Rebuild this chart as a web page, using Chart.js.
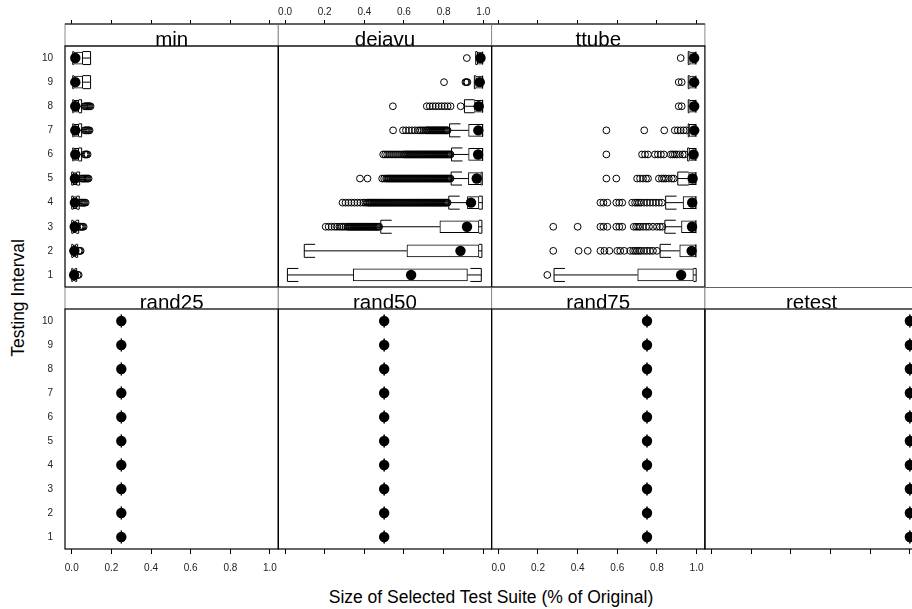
<!DOCTYPE html>
<html>
<head>
<meta charset="utf-8">
<title>Test suite size by testing interval</title>
<script src="https://cdn.jsdelivr.net/npm/chart.js@4.4.1/dist/chart.umd.min.js"></script>
<style>
  html, body { margin: 0; padding: 0; background: #fff; overflow: hidden; width: 912px; height: 609px; }
  body { position: relative; font-family: "Liberation Sans", Arial, Helvetica, sans-serif; }
  canvas { position: absolute; }
  .ttl { position: absolute; font-size: 17.5px; line-height: 1; color: #000; white-space: nowrap; }
  #ytitle { left: 18.5px; top: 298px; transform: translate(-50%, -50%) rotate(-90deg); }
  #xtitle { left: 491px; top: 598px; transform: translate(-50%, -50%); }
</style>
</head>
<body>
<div id="ytitle" class="ttl">Testing Interval</div>
<div id="xtitle" class="ttl">Size of Selected Test Suite (% of Original)</div>
<script>
// testing intervals (y) and x tick marks
var levels = [1, 2, 3, 4, 5, 6, 7, 8, 9, 10];
var xTicks = [0.0, 0.2, 0.4, 0.6, 0.8, 1.0];

// min
var minLo  = [0.0, 0.0, 0.0, 0.0, 0.0, 0.005, 0.005, 0.005, 0.005, 0.005];
var minQ1  = [0.005, 0.007, 0.008, 0.008, 0.008, 0.01, 0.01, 0.01, 0.01, 0.01];
var minMed = [0.012, 0.013, 0.015, 0.016, 0.016, 0.018, 0.018, 0.018, 0.018, 0.018];
var minQ3  = [0.018, 0.02, 0.022, 0.025, 0.025, 0.035, 0.035, 0.035, 0.055, 0.055];
var minHi  = [0.025, 0.03, 0.035, 0.038, 0.04, 0.05, 0.05, 0.05, 0.095, 0.095];
var minOut = [
  [0.03, 0.035],
  [0.035, 0.04, 0.045],
  [0.04, 0.045, 0.05, 0.055, 0.06],
  [0.045, 0.05, 0.055, 0.06, 0.065, 0.07],
  [0.05, 0.055, 0.06, 0.065, 0.07, 0.075, 0.08, 0.085],
  [0.065, 0.07, 0.075, 0.08],
  [0.065, 0.07, 0.075, 0.08, 0.085, 0.09],
  [0.065, 0.07, 0.075, 0.08, 0.085, 0.09, 0.095],
  [],
  []
];

// dejavu
var djLo  = [0.012, 0.097, 0.483, 0.826, 0.838, 0.84, 0.83, 0.905, 0.955, 0.962];
var djQ1  = [0.344, 0.615, 0.781, 0.92, 0.925, 0.926, 0.926, 0.956, 0.962, 0.97];
var djMed = [0.636, 0.885, 0.918, 0.938, 0.967, 0.974, 0.975, 0.977, 0.982, 0.986];
var djQ3  = [0.92, 0.978, 0.978, 0.978, 0.99, 0.997, 0.997, 0.997, 0.997, 0.997];
var djHi  = [0.99, 0.993, 0.993, 0.995, 0.995, 0.997, 0.997, 0.997, 0.997, 0.997];
var djOut = [
  [],
  [],
  [0.205, 0.22, 0.235, 0.25, 0.262, 0.275, 0.285, 0.295, 0.305, 0.315, 0.32, 0.325, 0.33, 0.335, 0.34,
   0.345, 0.35, 0.355, 0.36, 0.365, 0.37, 0.375, 0.38, 0.385, 0.39, 0.395, 0.40, 0.405, 0.41, 0.415,
   0.42, 0.425, 0.43, 0.435, 0.44, 0.445, 0.45, 0.455, 0.46, 0.465, 0.47, 0.475],
  [0.29, 0.305, 0.32, 0.335, 0.35, 0.365, 0.38, 0.395, 0.405, 0.415,
   0.42, 0.425, 0.43, 0.435, 0.44, 0.445, 0.45, 0.455, 0.46, 0.465, 0.47, 0.475, 0.48, 0.485, 0.49, 0.495,
   0.50, 0.505, 0.51, 0.515, 0.52, 0.525, 0.53, 0.535, 0.54, 0.545, 0.55, 0.555, 0.56, 0.565, 0.57, 0.575,
   0.58, 0.585, 0.59, 0.595, 0.60, 0.605, 0.61, 0.615, 0.62, 0.625, 0.63, 0.635, 0.64, 0.645, 0.65, 0.655,
   0.66, 0.665, 0.67, 0.675, 0.68, 0.685, 0.69, 0.695, 0.70, 0.705, 0.71, 0.715, 0.72, 0.725, 0.73, 0.735,
   0.74, 0.745, 0.75, 0.755, 0.76, 0.765, 0.77, 0.775, 0.78, 0.785, 0.79, 0.795, 0.80, 0.805, 0.81, 0.815, 0.82],
  [0.378, 0.416, 0.49, 0.50, 0.51, 0.515,
   0.52, 0.525, 0.53, 0.535, 0.54, 0.545, 0.55, 0.555, 0.56, 0.565, 0.57, 0.575, 0.58, 0.585, 0.59, 0.595,
   0.60, 0.605, 0.61, 0.615, 0.62, 0.625, 0.63, 0.635, 0.64, 0.645, 0.65, 0.655, 0.66, 0.665, 0.67, 0.675,
   0.68, 0.685, 0.69, 0.695, 0.70, 0.705, 0.71, 0.715, 0.72, 0.725, 0.73, 0.735, 0.74, 0.745, 0.75, 0.755,
   0.76, 0.765, 0.77, 0.775, 0.78, 0.785, 0.79, 0.795, 0.80, 0.805, 0.81, 0.815, 0.82, 0.825, 0.83, 0.835],
  [0.495, 0.505, 0.515, 0.525, 0.535, 0.545, 0.555, 0.565, 0.575, 0.585, 0.595,
   0.60, 0.605, 0.61, 0.615, 0.62, 0.625, 0.63, 0.635, 0.64, 0.645, 0.65, 0.655, 0.66, 0.665, 0.67, 0.675,
   0.68, 0.685, 0.69, 0.695, 0.70, 0.705, 0.71, 0.715, 0.72, 0.725, 0.73, 0.735, 0.74, 0.745, 0.75, 0.755,
   0.76, 0.765, 0.77, 0.775, 0.78, 0.785, 0.79, 0.795, 0.80, 0.805, 0.81, 0.815, 0.82, 0.825, 0.83, 0.835],
  [0.545, 0.595, 0.61, 0.625, 0.64, 0.655, 0.67, 0.68, 0.69, 0.70, 0.71,
   0.715, 0.72, 0.725, 0.73, 0.735, 0.74, 0.745, 0.75, 0.755, 0.76, 0.765, 0.77, 0.775, 0.78, 0.785,
   0.79, 0.795, 0.80, 0.805, 0.81, 0.815, 0.82],
  [0.544, 0.715, 0.73, 0.745, 0.76, 0.775, 0.79, 0.805, 0.82, 0.835, 0.886],
  [0.802, 0.91, 0.915, 0.92],
  [0.917]
];

// ttube
var ttLo  = [0.281, 0.816, 0.84, 0.844, 0.905, 0.955, 0.958, 0.958, 0.958, 0.958];
var ttQ1  = [0.703, 0.915, 0.924, 0.932, 0.96, 0.962, 0.962, 0.965, 0.965, 0.965];
var ttMed = [0.922, 0.975, 0.977, 0.978, 0.98, 0.985, 0.988, 0.988, 0.988, 0.988];
var ttQ3  = [0.984, 0.997, 0.997, 0.997, 0.997, 0.997, 0.997, 0.997, 0.997, 0.997];
var ttHi  = [0.998, 0.997, 0.997, 0.997, 0.997, 0.997, 0.997, 0.997, 0.997, 0.997];
var ttOut = [
  [0.247],
  [0.277, 0.405, 0.451, 0.515, 0.535, 0.56, 0.60, 0.615, 0.635, 0.665, 0.68, 0.69, 0.70, 0.71, 0.72,
   0.735, 0.75, 0.765, 0.78, 0.80],
  [0.277, 0.40, 0.515, 0.53, 0.55, 0.595, 0.61, 0.625, 0.683, 0.695, 0.705, 0.715, 0.73, 0.745, 0.76,
   0.78, 0.80, 0.815, 0.828],
  [0.515, 0.53, 0.55, 0.595, 0.61, 0.625, 0.675, 0.69, 0.70, 0.71, 0.72, 0.735, 0.75, 0.765, 0.78,
   0.795, 0.81, 0.825],
  [0.545, 0.595, 0.70, 0.715, 0.73, 0.745, 0.755, 0.81, 0.825, 0.835, 0.845, 0.86, 0.875, 0.885],
  [0.545, 0.725, 0.74, 0.755, 0.79, 0.805, 0.82, 0.835, 0.87, 0.88, 0.89, 0.90, 0.915, 0.93, 0.94],
  [0.545, 0.736, 0.837, 0.89, 0.905, 0.92, 0.935, 0.948],
  [0.91, 0.925],
  [0.91, 0.925],
  [0.92]
];

// random selections and retest-all: every run gives the same size
var rand25Size = [0.25, 0.25, 0.25, 0.25, 0.25, 0.25, 0.25, 0.25, 0.25, 0.25];
var rand50Size = [0.5, 0.5, 0.5, 0.5, 0.5, 0.5, 0.5, 0.5, 0.5, 0.5];
var rand75Size = [0.75, 0.75, 0.75, 0.75, 0.75, 0.75, 0.75, 0.75, 0.75, 0.75];
var retestSize = [1.0, 1.0, 1.0, 1.0, 1.0, 1.0, 1.0, 1.0, 1.0, 1.0];
var noOut = [[], [], [], [], [], [], [], [], [], []];

var panels = [
  { name: "min",    lo: minLo, q1: minQ1, med: minMed, q3: minQ3, hi: minHi, out: minOut, col: 0, row: 0 },
  { name: "dejavu", lo: djLo,  q1: djQ1,  med: djMed,  q3: djQ3,  hi: djHi,  out: djOut,  col: 1, row: 0 },
  { name: "ttube",  lo: ttLo,  q1: ttQ1,  med: ttMed,  q3: ttQ3,  hi: ttHi,  out: ttOut,  col: 2, row: 0 },
  { name: "rand25", lo: rand25Size, q1: rand25Size, med: rand25Size, q3: rand25Size, hi: rand25Size, out: noOut, col: 0, row: 1 },
  { name: "rand50", lo: rand50Size, q1: rand50Size, med: rand50Size, q3: rand50Size, hi: rand50Size, out: noOut, col: 1, row: 1 },
  { name: "rand75", lo: rand75Size, q1: rand75Size, med: rand75Size, q3: rand75Size, hi: rand75Size, out: noOut, col: 2, row: 1 },
  { name: "retest", lo: retestSize, q1: retestSize, med: retestSize, q3: retestSize, hi: retestSize, out: noOut, col: 3, row: 1 }
];

var FONT = '"Liberation Sans", Arial, Helvetica, sans-serif';
Chart.defaults.font.family = FONT;

var COL_LEFT = [65, 278.3, 491.6, 704.9];
var PANEL_W = 213.3;
var X_MIN = -0.034, X_MAX = 1.042;
var BOX_HALF = 0.27;  // half height of the umbrellas, in interval units
var CAP = 0.055;      // length of the umbrella serifs

// whiskers plus "[" "]" umbrellas, one broken polyline
function whiskerPoints(p) {
  var pts = [];
  levels.forEach(function(l, i) {
    var lo = p.lo[i], q1 = p.q1[i], q3 = p.q3[i], hi = p.hi[i];
    var cl = Math.min(CAP, q1 - lo), cr = Math.min(CAP, hi - q3);
    pts.push({x: lo + cl, y: l - BOX_HALF}, {x: lo, y: l - BOX_HALF}, {x: lo, y: l + BOX_HALF}, {x: lo + cl, y: l + BOX_HALF}, {x: null, y: null});
    pts.push({x: lo, y: l}, {x: q1, y: l}, {x: null, y: null});
    pts.push({x: q3, y: l}, {x: hi, y: l}, {x: null, y: null});
    pts.push({x: hi - cr, y: l - BOX_HALF}, {x: hi, y: l - BOX_HALF}, {x: hi, y: l + BOX_HALF}, {x: hi - cr, y: l + BOX_HALF}, {x: null, y: null});
  });
  return pts;
}

// strip above each panel + the panel frame
var panelDeco = {
  id: "panelDeco",
  afterDraw: function(chart, args, opts) {
    var ctx = chart.ctx, a = chart.chartArea;
    var w = a.right - a.left, top = a.top - 22;
    ctx.save();
    ctx.fillStyle = "#fff";
    ctx.fillRect(a.left, top, w, 22);
    ctx.lineWidth = 1;
    ctx.strokeStyle = "#8a8a8a";
    ctx.strokeRect(a.left, top, w, 22);
    ctx.save();
    ctx.beginPath();
    ctx.rect(a.left, top, w, 22);
    ctx.clip();
    ctx.fillStyle = "#000";
    ctx.font = "20.5px " + FONT;
    ctx.textAlign = "center";
    ctx.textBaseline = "alphabetic";
    ctx.fillText(opts.label, (a.left + a.right) / 2, a.top - 0.5);
    ctx.restore();
    ctx.strokeStyle = "#000";
    ctx.lineWidth = 1.2;
    ctx.beginPath();
    ctx.moveTo(a.left, top);
    ctx.lineTo(a.right, top);
    ctx.stroke();
    ctx.strokeRect(a.left, a.top, w, a.bottom - a.top);
    if (opts.row === 1) {
      ctx.strokeStyle = "#777";
      ctx.beginPath();
      ctx.moveTo(a.left + 0.6, a.top);
      ctx.lineTo(a.right - 0.6, a.top);
      ctx.stroke();
    }
    ctx.restore();
  }
};

function makePanel(p) {
  var cv = document.createElement("canvas");
  var left = Math.round(COL_LEFT[p.col]) - 45;
  var top = p.row === 0 ? 0 : 287;
  var cw = 270, ch = p.row === 0 ? 309 : 300;
  cv.width = cw;
  cv.height = ch;
  cv.style.left = left + "px";
  cv.style.top = top + "px";
  document.body.appendChild(cv);

  var off = COL_LEFT[p.col] - left;
  var showX = p.row === 0 ? p.col === 1 : (p.col === 0 || p.col === 2);
  var showY = p.col === 0;

  var medPts = levels.map(function(l, i) { return {x: p.med[i], y: l}; });
  var boxPts = levels.map(function(l, i) { return {y: l, x: [p.q1[i], p.q3[i]]}; });
  var outPts = [];
  p.out.forEach(function(arr, i) {
    arr.forEach(function(v) { outPts.push({x: v, y: levels[i]}); });
  });

  new Chart(cv, {
    type: "scatter",
    data: {
      datasets: [
        { type: "scatter", data: medPts, pointStyle: "circle", pointRadius: 5.2, pointHoverRadius: 5.2,
          pointBackgroundColor: "#000", pointBorderWidth: 0, order: 0 },
        { type: "line", data: whiskerPoints(p), borderColor: "#000", borderWidth: 1, pointRadius: 0,
          spanGaps: false, tension: 0, fill: false, borderCapStyle: "butt", borderJoinStyle: "miter", order: 1 },
        { type: "bar", indexAxis: "y", data: boxPts, backgroundColor: "#fff", borderColor: "#000",
          borderWidth: 1, borderSkipped: false, barThickness: 12, order: 2 },
        { type: "scatter", data: outPts, pointStyle: "circle", pointRadius: 3.4, pointHoverRadius: 3.4,
          pointBorderWidth: 1, pointBorderColor: "#000", pointBackgroundColor: "rgba(0,0,0,0)", order: 3 }
      ]
    },
    options: {
      responsive: false,
      animation: false,
      devicePixelRatio: 1,
      events: [],
      layout: {
        autoPadding: false,
        padding: {
          left: off - 30,
          right: cw - off - PANEL_W,
          top: p.row === 0 ? 0 : 22,
          bottom: p.row === 0 ? 22 : 8
        }
      },
      plugins: {
        legend: { display: false },
        tooltip: { enabled: false },
        panelDeco: { label: p.name, row: p.row }
      },
      scales: {
        x: {
          type: "linear",
          position: p.row === 0 ? "top" : "bottom",
          min: X_MIN,
          max: X_MAX,
          offset: false,
          afterBuildTicks: function(s) { s.ticks = xTicks.map(function(v) { return {value: v}; }); },
          afterFit: function(s) { s.height = p.row === 0 ? 46 : 30; },
          grid: { display: true, offset: false, drawOnChartArea: false, drawTicks: true,
                  tickLength: p.row === 0 ? 26 : 5, tickColor: "#000", tickWidth: 1 },
          border: { display: false },
          ticks: {
            autoSkip: false, maxRotation: 0, minRotation: 0,
            padding: p.row === 0 ? 2 : 8,
            color: "#222",
            font: { size: 10 },
            callback: function(v) { return showX ? Number(v).toFixed(1) : ""; }
          }
        },
        y: {
          type: "linear",
          position: "left",
          min: 0.5,
          max: 10.5,
          offset: false,
          afterBuildTicks: function(s) { s.ticks = levels.map(function(v) { return {value: v}; }); },
          afterFit: function(s) { s.width = 30; },
          grid: { display: false, offset: false, drawTicks: false },
          border: { display: false },
          ticks: {
            autoSkip: false,
            padding: 12,
            color: "#222",
            font: { size: 10 },
            callback: function(v) { return showY ? String(v) : ""; }
          }
        }
      }
    },
    plugins: [panelDeco]
  });
}

panels.forEach(makePanel);
</script>
</body>
</html>
